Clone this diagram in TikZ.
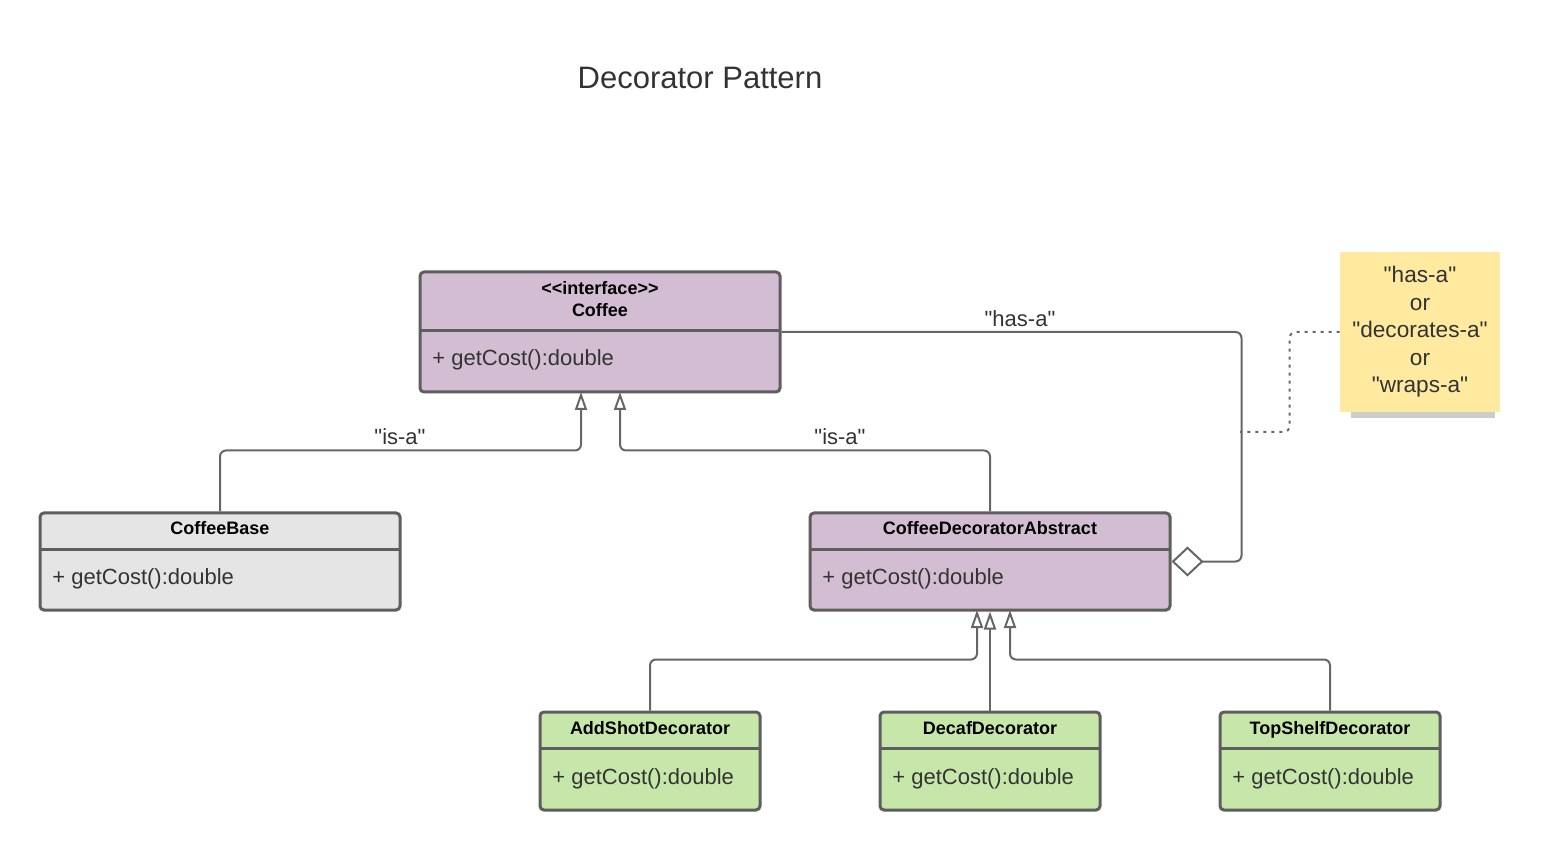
\documentclass[tikz,border=0pt]{standalone}
\usepackage{fontspec}
\setmainfont{Liberation Sans}
\usepackage{tikz}
\usetikzlibrary{arrows.meta,shadows}
\definecolor{umlpurple}{RGB}{211,189,211}
\definecolor{umlgray}{RGB}{229,229,229}
\definecolor{umlgreen}{RGB}{199,231,170}
\definecolor{noteyellow}{RGB}{255,234,160}
\definecolor{boxline}{RGB}{94,94,94}
\definecolor{wiregray}{RGB}{102,102,102}
\definecolor{textgray}{RGB}{51,51,51}

\begin{document}
\begin{tikzpicture}[x=0.5pt,y=-0.5pt]
\tikzstyle{classbox}=[rectangle,rounded corners=2pt,draw=boxline,line width=1.5pt,inner sep=0pt]
\tikzstyle{bigbox}=[classbox,minimum width=180pt]
\tikzstyle{smallbox}=[classbox,minimum width=110pt,minimum height=49pt,fill=umlgreen]
\tikzstyle{divider}=[draw=boxline,line width=1.5pt]
\tikzstyle{headtext}=[font=\fontsize{9}{11}\selectfont\bfseries,anchor=base,inner sep=0pt]
\tikzstyle{membertext}=[font=\fontsize{11}{13}\selectfont,text=textgray,anchor=base west,inner sep=0pt]
\tikzstyle{wirelabel}=[font=\fontsize{11}{13}\selectfont,text=textgray,inner sep=0pt]
\tikzstyle{wire}=[draw=wiregray,line width=1pt,rounded corners=3pt]
\tikzstyle{isa}=[wire,-{Triangle[open,length=9pt 0,width=6pt 0]}]
\tikzstyle{hasa}=[wire,-{Diamond[open,fill=white,length=16pt 0,width=15pt 0]}]
\tikzstyle{notelink}=[draw=wiregray,line width=1pt,rounded corners=3pt,dash pattern=on 1.5pt off 2.5pt]

\useasboundingbox (0,0) rectangle (1560,850);

%TITLE
\node [font=\fontsize{15.5}{18}\selectfont,text=textgray] (title) at (700,78) {Decorator Pattern};

%%%%%%%%%%%%%%%%%%%%%%%%%%%%%%%%%%%%%%%%%%%%%%%%%%%%%%%%%%%%%%%%%%%%%%%%
%interface
\node[bigbox,fill=umlpurple,minimum height=60pt] (coffee) at (600,332) {};
\draw[divider] (420,331) -- (780,331);
\node[headtext] (coffeestereo) at (600,295) {<{}<interface>{}>};
\node[headtext] (coffeename) at (600,316.5) {Coffee};
\node[membertext] (coffeecost) at (432,366) {+ getCost():double};

%%%%%%%%%%%%%%%%%%%%%%%%%%%%%%%%%%%%%%%%%%%%%%%%%%%%%%%%%%%%%%%%%%%%%%%%
%base
\node[bigbox,fill=umlgray,minimum height=48.5pt] (coffeebase) at (220,561.5) {};
\draw[divider] (40,549) -- (400,549);
\node[headtext] (basename) at (220,534.5) {CoffeeBase};
\node[membertext] (basecost) at (52,584.5) {+ getCost():double};

%%%%%%%%%%%%%%%%%%%%%%%%%%%%%%%%%%%%%%%%%%%%%%%%%%%%%%%%%%%%%%%%%%%%%%%%
%abstract decorator
\node[bigbox,fill=umlpurple,minimum height=48.5pt] (decorator) at (990,561.5) {};
\draw[divider] (810,549) -- (1170,549);
\node[headtext] (decoratorname) at (990,534.5) {CoffeeDecoratorAbstract};
\node[membertext] (decoratorcost) at (822,584.5) {+ getCost():double};

%%%%%%%%%%%%%%%%%%%%%%%%%%%%%%%%%%%%%%%%%%%%%%%%%%%%%%%%%%%%%%%%%%%%%%%%
%decorators
%1
\node[smallbox] (addshot) at (650,761) {};
\draw[divider] (540,748) -- (760,748);
\node[headtext] (addshotname) at (650,734.5) {AddShotDecorator};
\node[membertext] (addshotcost) at (552,784) {+ getCost():double};
%2
\node[smallbox] (decaf) at (990,761) {};
\draw[divider] (880,748) -- (1100,748);
\node[headtext] (decafname) at (990,734.5) {DecafDecorator};
\node[membertext] (decafcost) at (892,784) {+ getCost():double};
%3
\node[smallbox] (topshelf) at (1330,761) {};
\draw[divider] (1220,748) -- (1440,748);
\node[headtext] (topshelfname) at (1330,734.5) {TopShelfDecorator};
\node[membertext] (topshelfcost) at (1232,784) {+ getCost():double};

%%%%%%%%%%%%%%%%%%%%%%%%%%%%%%%%%%%%%%%%%%%%%%%%%%%%%%%%%%%%%%%%%%%%%%%%
%note
\node[fill=noteyellow,minimum width=80pt,minimum height=80pt,inner sep=0pt,align=center,
  text=textgray,font=\fontsize{11.3}{13.75}\selectfont,
  drop shadow={opacity=0.4,shadow scale=0.9,shadow xshift=1.5pt,shadow yshift=-8pt}] (note) at (1420,332)
  {\textquotedbl has-a\textquotedbl\\or\\\textquotedbl decorates-a\textquotedbl\\or\\\textquotedbl wraps-a\textquotedbl};

%%%%%%%%%%%%%%%%%%%%%%%%%%%%%%%%%%%%%%%%%%%%%%%%%%%%%%%%%%%%%%
%ARROWS
\coordinate (coffeein1) at (581,392);
\coordinate (coffeein2) at (620,392);
\coordinate (decin1) at (977,610);
\coordinate (decin2) at (1010,610);
\coordinate (hasapoint) at (1240,432);

% is-a
\draw[isa] (coffeebase.north) -- ++(0,-61) -| (coffeein1);
\draw[isa] (decorator.north) -- ++(0,-61) -| (coffeein2);
\node[wirelabel] (isalabel1) at (400,437) {\textquotedbl is-a\textquotedbl};
\node[wirelabel] (isalabel2) at (840,437) {\textquotedbl is-a\textquotedbl};

% has-a
\draw[hasa] (coffee.east) -- ++(460,0) |- (decorator.east);
\node[wirelabel] (hasalabel) at (1020,319) {\textquotedbl has-a\textquotedbl};

% note link
\draw[notelink] (note.west) -- ++(-50,0) |- (hasapoint);

% decorators -> abstract
\draw[isa] (addshot.north) -- ++(0,-51) -| (decin1);
\draw[isa] (decaf.north) -- (decorator.south);
\draw[isa] (topshelf.north) -- ++(0,-51) -| (decin2);

\end{tikzpicture}
\end{document}
